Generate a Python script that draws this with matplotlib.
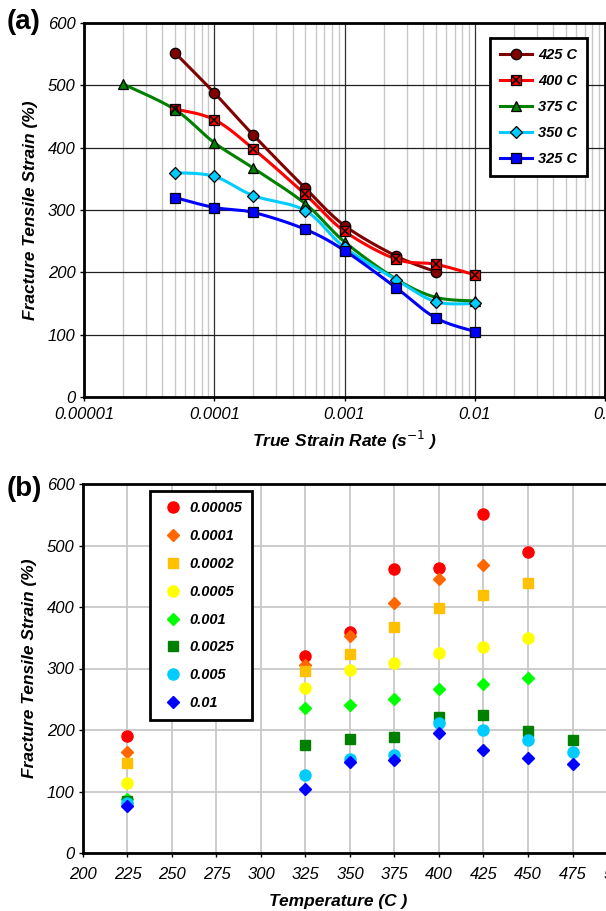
import numpy as np
import matplotlib
matplotlib.use("Agg")
import matplotlib.pyplot as plt
from matplotlib.ticker import FixedLocator, FixedFormatter, NullFormatter, LogLocator
from matplotlib.legend_handler import HandlerTuple

plt.rcParams['font.family'] = ['Liberation Sans', 'DejaVu Sans']

# ---------------- data (a) ----------------
rates_a = [2e-5, 5e-5, 1e-4, 2e-4, 5e-4, 1e-3, 2.5e-3, 5e-3, 1e-2]
nan = np.nan
t425 = [nan, 552, 488, 420, 335, 275, 226, 201, nan]
t400 = [nan, 462, 445, 398, 325, 266, 221, 213, 196]
t375 = [502, 461, 408, 367, 310, 249, 189, 160, 154]
t350 = [nan, 360, 354, 323, 299, 240, 188, 153, 150]
t325 = [nan, 320, 304, 296, 269, 235, 175, 127, 105]
labels_a = ['425 C', '400 C', '375 C', '350 C', '325 C']
colors_a = ['#800000', '#FF0000', '#008000', '#00CCFF', '#0000FF']
markers_a = ['o', 's', '^', 'D', 's']

# ---------------- data (b) ----------------
temps_b = [225, 325, 350, 375, 400, 425, 450, 475]
r00005 = [190, 320, 360, 461, 463, 552, 490, nan]
r0001 = [165, 305, 353, 407, 445, 469, nan, nan]
r0002 = [146, 296, 323, 368, 398, 420, 439, nan]
r0005 = [114, 269, 298, 309, 326, 335, 350, nan]
r001 = [87, 235, 240, 250, 266, 275, 284, nan]
r0025 = [85, 175, 186, 188, 221, 224, 199, 183]
r005 = [81, 127, 153, 159, 212, 200, 183, 165]
r01 = [77, 104, 148, 152, 195, 168, 154, 144]
labels_b = ['0.00005', '0.0001', '0.0002', '0.0005', '0.001', '0.0025', '0.005', '0.01']
colors_b = ['#FF0000', '#FF6600', '#FFC000', '#FFFF00', '#00FF00', '#008000', '#00CCFF', '#0000FF']
markers_b = ['o', 'D', 's', 'o', 'D', 's', 'o', 'D']
msizes_b = [8, 6.5, 7, 8, 6.5, 7, 8, 6.5]

W, H = 606, 911
fig = plt.figure(figsize=(W / 100, H / 100), dpi=100)

TICK_FS = 12
LABEL_FS = 12.5
LEG_FS = 10.5


def smooth(xs, ys, sx=131.0, sy=0.623, n=20):
    """Excel-like smoothed path (Bezier through points in screen-like space)."""
    u = np.log10(xs) * sx
    v = np.asarray(ys, float) * sy
    P = np.column_stack([u, v])
    if len(P) < 3:
        return xs, ys
    out = [P[0]]
    for i in range(len(P) - 1):
        p0 = P[i - 1] if i > 0 else P[i]
        p1, p2 = P[i], P[i + 1]
        p3 = P[i + 2] if i + 2 < len(P) else P[i + 1]
        c1 = p1 + (p2 - p0) / 6.0
        c2 = p2 - (p3 - p1) / 6.0
        t = np.linspace(0, 1, n)[1:, None]
        seg = ((1 - t) ** 3) * p1 + 3 * ((1 - t) ** 2) * t * c1 + 3 * (1 - t) * t ** 2 * c2 + t ** 3 * p2
        out.extend(seg)
    out = np.array(out)
    return 10 ** (out[:, 0] / sx), out[:, 1] / sy


# ---------------- panel (a) ----------------
ax1 = fig.add_axes([84 / W, 1 - 397 / H, 521 / W, 374 / H])
ax1.set_xscale('log')
ax1.set_xlim(1e-5, 0.1)
ax1.set_ylim(0, 600)
series_a = [t425, t400, t375, t350, t325]
handles = []
for k, (ys, lab, c, m) in enumerate(zip(series_a, labels_a, colors_a, markers_a)):
    xs = np.array([x for x, y in zip(rates_a, ys) if not np.isnan(y)])
    yv = np.array([y for y in ys if not np.isnan(y)])
    sxp, syp = smooth(xs, yv)
    ax1.plot(sxp, syp, color=c, lw=2.2, zorder=3)
    ms = {'o': 7.5, 's': 7.5, '^': 7.5, 'D': 6}[m]
    ax1.plot(xs, yv, ls='none', marker=m, color=c, mec='black', mew=0.9, ms=ms, zorder=4)
    h, = ax1.plot([], [], color=c, lw=2.2, marker=m, mec='black', mew=0.9, ms=ms)
    if k == 1:  # 400 C: square with a cross
        ax1.plot(xs, yv, ls='none', marker='x', color='black', mew=1.1, ms=6, zorder=5)
        hx, = ax1.plot([], [], ls='none', marker='x', color='black', mew=1.1, ms=6)
        handles.append((h, hx))
    else:
        handles.append(h)

ax1.xaxis.set_major_locator(FixedLocator([1e-5, 1e-4, 1e-3, 1e-2, 1e-1]))
ax1.xaxis.set_major_formatter(FixedFormatter(['0.00001', '0.0001', '0.001', '0.01', '0.1']))
ax1.xaxis.set_minor_locator(LogLocator(base=10, subs=np.arange(2, 10), numticks=20))
ax1.xaxis.set_minor_formatter(NullFormatter())
ax1.set_yticks(np.arange(0, 601, 100))
ax1.grid(True, which='minor', axis='x', color='#c8c8c8', lw=1.0, zorder=0)
ax1.grid(True, which='major', axis='x', color='#303030', lw=0.9, zorder=1)
ax1.grid(True, which='major', axis='y', color='#202020', lw=0.9, zorder=1)
ax1.set_axisbelow(True)
ax1.tick_params(which='minor', length=0)
ax1.tick_params(which='major', direction='out', length=3, width=1, labelsize=TICK_FS, pad=3)
ax1.tick_params(axis='x', which='major', pad=4.5)
for t in ax1.get_xticklabels() + ax1.get_yticklabels():
    t.set_fontstyle('italic')
for s in ax1.spines.values():
    s.set_linewidth(2.0)
ax1.set_ylabel('Fracture Tensile Strain (%)', fontsize=LABEL_FS, fontweight='bold', fontstyle='italic', labelpad=7)
ax1.set_xlabel('True Strain Rate (s$^{-1}$ )', fontsize=LABEL_FS, fontweight='bold', fontstyle='italic', labelpad=5)
leg1 = ax1.legend(handles=handles, labels=labels_a, loc='upper left', bbox_to_anchor=(490 / W, 1 - 38 / H),
                  bbox_transform=fig.transFigure, frameon=True, fancybox=False, borderaxespad=0,
                  prop={'weight': 'bold', 'style': 'italic', 'size': LEG_FS},
                  handler_map={tuple: HandlerTuple(ndivide=1)},
                  handlelength=2.2, handletextpad=0.4, labelspacing=0.82, borderpad=0.7, framealpha=1)
leg1.get_frame().set_edgecolor('black')
leg1.get_frame().set_linewidth(2.0)
fig.text(7 / W, 1 - 22 / H, '(a)', fontsize=20, fontweight='bold', va='center', ha='left')

# ---------------- panel (b) ----------------
ax2 = fig.add_axes([83 / W, 1 - 853 / H, 534 / W, 369 / H])
ax2.set_xlim(200, 500)
ax2.set_ylim(0, 600)
series_b = [r00005, r0001, r0002, r0005, r001, r0025, r005, r01]
for ys, lab, c, m, ms in zip(series_b, labels_b, colors_b, markers_b, msizes_b):
    xs = [x for x, y in zip(temps_b, ys) if not np.isnan(y)]
    yv = [y for y in ys if not np.isnan(y)]
    ax2.plot(xs, yv, ls='none', marker=m, color=c, mec=c, ms=ms, label=lab, zorder=3)
ax2.set_xticks(np.arange(200, 501, 25))
ax2.set_yticks(np.arange(0, 601, 100))
ax2.grid(True, color='#c8c8c8', lw=1.3, zorder=0)
ax2.set_axisbelow(True)
ax2.tick_params(direction='out', length=3, width=1, labelsize=TICK_FS, pad=3)
ax2.tick_params(axis='x', pad=7)
for t in ax2.get_xticklabels() + ax2.get_yticklabels():
    t.set_fontstyle('italic')
for s in ax2.spines.values():
    s.set_linewidth(2.0)
ax2.set_ylabel('Fracture Tensile Strain (%)', fontsize=LABEL_FS, fontweight='bold', fontstyle='italic', labelpad=7)
ax2.set_xlabel('Temperature (C )', fontsize=LABEL_FS, fontweight='bold', fontstyle='italic')
ax2.xaxis.set_label_coords((338 - 83) / 534, -0.11)
leg2 = ax2.legend(loc='upper left', bbox_to_anchor=(150 / W, 1 - 491 / H),
                  bbox_transform=fig.transFigure, frameon=True, fancybox=False, borderaxespad=0,
                  prop={'weight': 'bold', 'style': 'italic', 'size': LEG_FS},
                  handlelength=1.8, handletextpad=0.2, labelspacing=0.95, borderpad=0.7,
                  framealpha=1)
leg2.get_frame().set_edgecolor('black')
leg2.get_frame().set_linewidth(2.0)
fig.text(7 / W, 1 - 489 / H, '(b)', fontsize=20, fontweight='bold', va='center', ha='left')

fig.savefig('out.png', dpi=100)
